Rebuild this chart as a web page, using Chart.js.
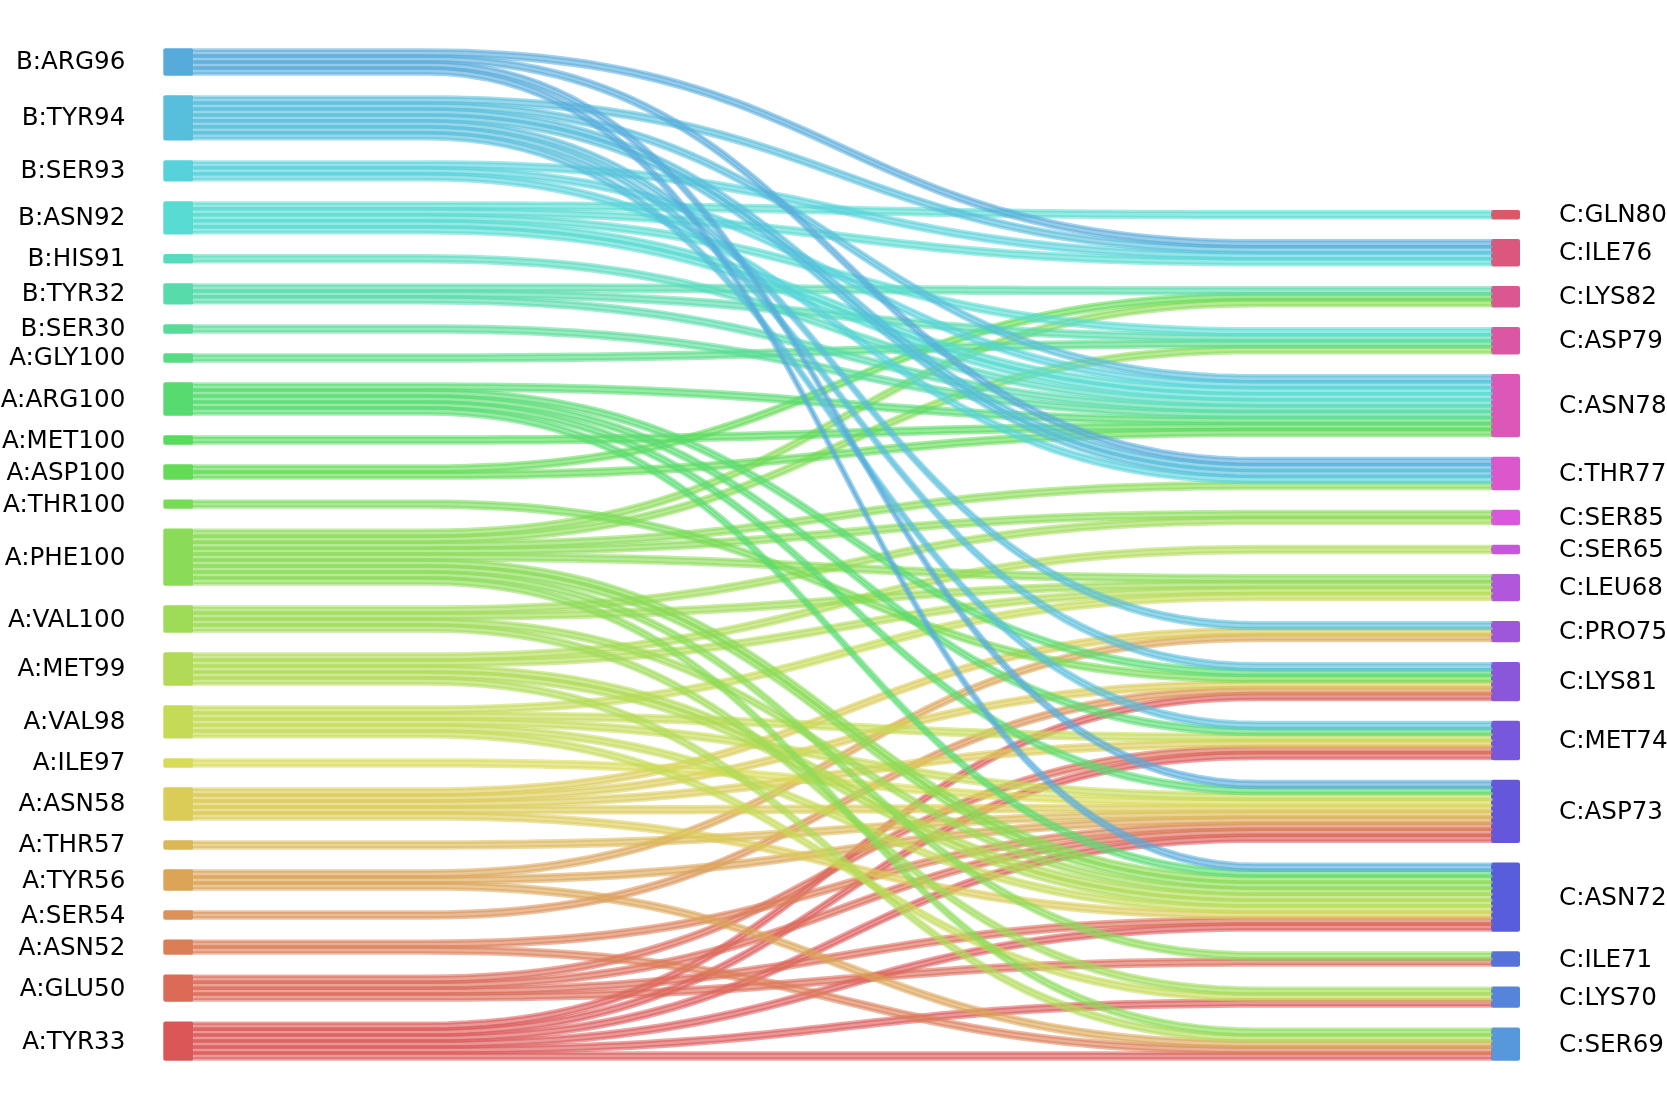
<!DOCTYPE html>
<html><head><meta charset="utf-8">
<script src="https://cdn.jsdelivr.net/npm/chart.js@4/dist/chart.umd.min.js"></script>
<style>html,body{margin:0;padding:0;background:#fff;}canvas{display:block;}</style>
</head><body>
<canvas id="c" width="1667" height="1108"></canvas>
<script>
// ---------------- DATA ----------------
const leftNodes = ['B:ARG96','B:TYR94','B:SER93','B:ASN92','B:HIS91','B:TYR32','B:SER30','A:GLY100','A:ARG100','A:MET100','A:ASP100','A:THR100','A:PHE100','A:VAL100','A:MET99','A:VAL98','A:ILE97','A:ASN58','A:THR57','A:TYR56','A:SER54','A:ASN52','A:GLU50','A:TYR33'];
const rightNodes = ['C:GLN80','C:ILE76','C:LYS82','C:ASP79','C:ASN78','C:THR77','C:SER85','C:SER65','C:LEU68','C:PRO75','C:LYS81','C:MET74','C:ASP73','C:ASN72','C:ILE71','C:LYS70','C:SER69'];
const linkSource = [
 'B:ARG96','B:ARG96','B:ARG96','B:ARG96',
 'B:TYR94','B:TYR94','B:TYR94','B:TYR94','B:TYR94','B:TYR94',
 'B:SER93','B:SER93','B:SER93',
 'B:ASN92','B:ASN92','B:ASN92','B:ASN92',
 'B:HIS91',
 'B:TYR32','B:TYR32','B:TYR32',
 'B:SER30',
 'A:GLY100',
 'A:ARG100','A:ARG100','A:ARG100','A:ARG100','A:ARG100',
 'A:MET100',
 'A:ASP100','A:ASP100',
 'A:THR100',
 'A:PHE100','A:PHE100','A:PHE100','A:PHE100','A:PHE100','A:PHE100','A:PHE100','A:PHE100',
 'A:VAL100','A:VAL100','A:VAL100','A:VAL100',
 'A:MET99','A:MET99','A:MET99','A:MET99',
 'A:VAL98','A:VAL98','A:VAL98','A:VAL98','A:VAL98',
 'A:ILE97',
 'A:ASN58','A:ASN58','A:ASN58','A:ASN58','A:ASN58',
 'A:THR57',
 'A:TYR56','A:TYR56','A:TYR56',
 'A:SER54',
 'A:ASN52','A:ASN52',
 'A:GLU50','A:GLU50','A:GLU50','A:GLU50',
 'A:TYR33','A:TYR33','A:TYR33','A:TYR33','A:TYR33','A:TYR33'];
const linkTarget = [
 'C:ILE76','C:THR77','C:ASP73','C:ASN72',
 'C:ILE76','C:ASN78','C:THR77','C:PRO75','C:LYS81','C:MET74',
 'C:ILE76','C:ASN78','C:THR77',
 'C:GLN80','C:ILE76','C:ASP79','C:ASN78',
 'C:ASN78',
 'C:LYS82','C:ASP79','C:ASN78',
 'C:ASN78',
 'C:ASP79',
 'C:ASN78','C:LYS81','C:MET74','C:ASP73','C:ASN72',
 'C:ASN78',
 'C:LYS82','C:ASN78',
 'C:LYS81',
 'C:LYS82','C:ASP79','C:THR77','C:SER85','C:LEU68','C:ASN72','C:ILE71','C:SER69',
 'C:SER85','C:LEU68','C:ASN72','C:LYS70',
 'C:SER65','C:LEU68','C:ASN72','C:SER69',
 'C:LEU68','C:MET74','C:ASP73','C:ASN72','C:LYS70',
 'C:ASP73',
 'C:PRO75','C:LYS81','C:MET74','C:ASP73','C:ASN72',
 'C:ASP73',
 'C:PRO75','C:ASP73','C:SER69',
 'C:LYS81',
 'C:ASP73','C:SER69',
 'C:MET74','C:ASP73','C:ASN72','C:ILE71',
 'C:LYS81','C:MET74','C:ASP73','C:ASN72','C:LYS70','C:SER69'];
const linkValue = [
 1,1,1,1,
 1,1,2,1,1,1,
 1,1,1,
 1,1,1,2,
 1,
 1,1,1,
 1,
 1,
 1,1,1,1,1,
 1,
 1,1,
 1,
 1,1,1,1,1,2,1,1,
 1,1,1,1,
 1,1,2,1,
 1,1,1,1,1,
 1,
 1,1,1,1,1,
 1,
 1,1,1,
 1,
 1,1,
 1,1,1,1,
 1,1,1,1,1,1];

// ---------------- LAYOUT (derived from data) ----------------
const GAP = 3.87;            // gap between nodes, in link units
const UNIT_PX = 5.97;        // pixel height of one link unit
const TOP_PX = 50;           // top of first left node
const X0_PX = 193.3, X1_PX = 1491; // inner edges of node columns
const NODE_W = 30;
const CURVE_A = 0.18;        // fraction of straight run at each side

const W = 1667, H = 1108;
const nL = leftNodes.length, nR = rightNodes.length;
const links = linkSource.map((s,i)=>({s:leftNodes.indexOf(s), t:rightNodes.indexOf(linkTarget[i]), v:linkValue[i]}));
const totL = leftNodes.map((_,i)=>links.filter(l=>l.s===i).reduce((a,l)=>a+l.v,0));
const totR = rightNodes.map((_,j)=>links.filter(l=>l.t===j).reduce((a,l)=>a+l.v,0));
const topL = [], topR = [];
let acc = 0; totL.forEach((v,i)=>{topL.push(acc); acc += v + GAP;});
const spanL = acc - GAP;
acc = 0; totR.forEach((v,j)=>{topR.push(acc); acc += v + GAP;});
const spanR = acc - GAP;
const offR = spanL - spanR;
for (let j=0;j<nR;j++) topR[j] += offR;

// slot positions
const srcSlot = {}, tgtSlot = {};
for (let i=0;i<nL;i++){ let p = topL[i];
  links.map((l,k)=>[l,k]).filter(([l])=>l.s===i).sort((a,b)=>a[0].t-b[0].t).forEach(([l,k])=>{srcSlot[k]=p; p+=l.v;}); }
for (let j=0;j<nR;j++){ let p = topR[j];
  links.map((l,k)=>[l,k]).filter(([l])=>l.t===j).sort((a,b)=>a[0].s-b[0].s).forEach(([l,k])=>{tgtSlot[k]=p; p+=l.v;}); }

// colours (hls palette across all nodes)
function hls(h,l,s){ const C=(1-Math.abs(2*l-1))*s, hp=h*6, X=C*(1-Math.abs(hp%2-1)); let r=0,g=0,b=0;
  if(hp<1){r=C;g=X;}else if(hp<2){r=X;g=C;}else if(hp<3){g=C;b=X;}else if(hp<4){g=X;b=C;}else if(hp<5){r=X;b=C;}else{r=C;b=X;}
  const m=l-C/2; return [r+m,g+m,b+m].map(v=>Math.round(v*255)); }
const NTOT = nL + nR;
const colL = leftNodes.map((_,i)=>hls((nL-1-i)/NTOT,0.6,0.65));
const colR = rightNodes.map((_,j)=>hls((nL+nR-1-j)/NTOT,0.6,0.65));
const rgba = (c,a)=>`rgba(${c[0]},${c[1]},${c[2]},${a})`;

function bez(t,p0,p1,p2,p3){const u=1-t; return u*u*u*p0+3*u*u*t*p1+3*u*t*t*p2+t*t*t*p3;}
function curve(y0,y1){
  const a=CURVE_A, b=1-CURVE_A, N=60, pts=[{x:0,y:y0}];
  for(let i=0;i<=N;i++){const t=i/N; pts.push({x:bez(t,a,(a+b)/2,(a+b)/2,b), y:bez(t,y0,y0,y1,y1)});}
  pts.push({x:1,y:y1}); return pts;
}

// datasets: each unit = ribbon (top edge + bottom edge filled between)
const datasets = [];
const order = links.map((l,k)=>k).sort((a,b)=>links[a].s-links[b].s || links[a].t-links[b].t);
order.forEach(k=>{
  const l = links[k], c = colL[l.s];
  for (let u=0; u<l.v; u++){
    const y0 = srcSlot[k]+u, y1 = tgtSlot[k]+u;
    datasets.push({data:curve(y0,y1), borderColor:rgba(c,0.55), borderWidth:3.5, pointRadius:0, fill:false, tension:0, borderCapStyle:'round'});
    datasets.push({data:curve(y0+1,y1+1), borderColor:rgba(c,0.55), borderWidth:3.5, pointRadius:0, fill:'-1', backgroundColor:rgba(c,0.62), tension:0, borderCapStyle:'round'});
  }
});

const yMin = -TOP_PX/UNIT_PX, yMax = yMin + H/UNIT_PX;
const xPer = X1_PX - X0_PX, xMin = -X0_PX/xPer, xMax = xMin + W/xPer;

const nodePlugin = {
  id:'nodes',
  beforeDatasetsDraw(chart){
    const ctx=chart.ctx, xs=chart.scales.x, ys=chart.scales.y;
    const half = 1.75;
    ctx.save();
    const rect=(x,y,w,h,col)=>{ctx.fillStyle=col; ctx.beginPath(); ctx.roundRect(x,y,w,h,2); ctx.fill();};
    leftNodes.forEach((n,i)=>{const x=xs.getPixelForValue(0); const y0=ys.getPixelForValue(topL[i])-half, y1=ys.getPixelForValue(topL[i]+totL[i])+half; rect(x-NODE_W,y0,NODE_W,y1-y0,rgba(colL[i],1));});
    rightNodes.forEach((n,j)=>{const x=xs.getPixelForValue(1); const y0=ys.getPixelForValue(topR[j])-half, y1=ys.getPixelForValue(topR[j]+totR[j])+half; rect(x,y0,NODE_W-1,y1-y0,rgba(colR[j],1));});
    ctx.restore();
  },
  afterDatasetsDraw(chart){
    const ctx=chart.ctx, xs=chart.scales.x, ys=chart.scales.y;
    ctx.save();
    ctx.font='24.6px "DejaVu Sans"'; ctx.fillStyle='#000'; ctx.textBaseline='alphabetic';
    ctx.textAlign='right';
    leftNodes.forEach((n,i)=>{const y=ys.getPixelForValue(topL[i]+totL[i]/2); ctx.fillText(n, xs.getPixelForValue(0)-NODE_W-38, y+7.5);});
    ctx.textAlign='left';
    rightNodes.forEach((n,j)=>{const y=ys.getPixelForValue(topR[j]+totR[j]/2); ctx.fillText(n, xs.getPixelForValue(1)+NODE_W+38, y+7.5);});
    ctx.restore();
  }
};

new Chart(document.getElementById('c'), {
  type:'line',
  data:{datasets},
  options:{
    responsive:false, animation:false, events:[],
    layout:{padding:0},
    plugins:{legend:{display:false}, tooltip:{enabled:false}},
    scales:{
      x:{type:'linear', min:xMin, max:xMax, display:false},
      y:{type:'linear', min:yMin, max:yMax, reverse:true, display:false}
    },
    elements:{point:{radius:0}}
  },
  plugins:[nodePlugin]
});
</script>
</body></html>
